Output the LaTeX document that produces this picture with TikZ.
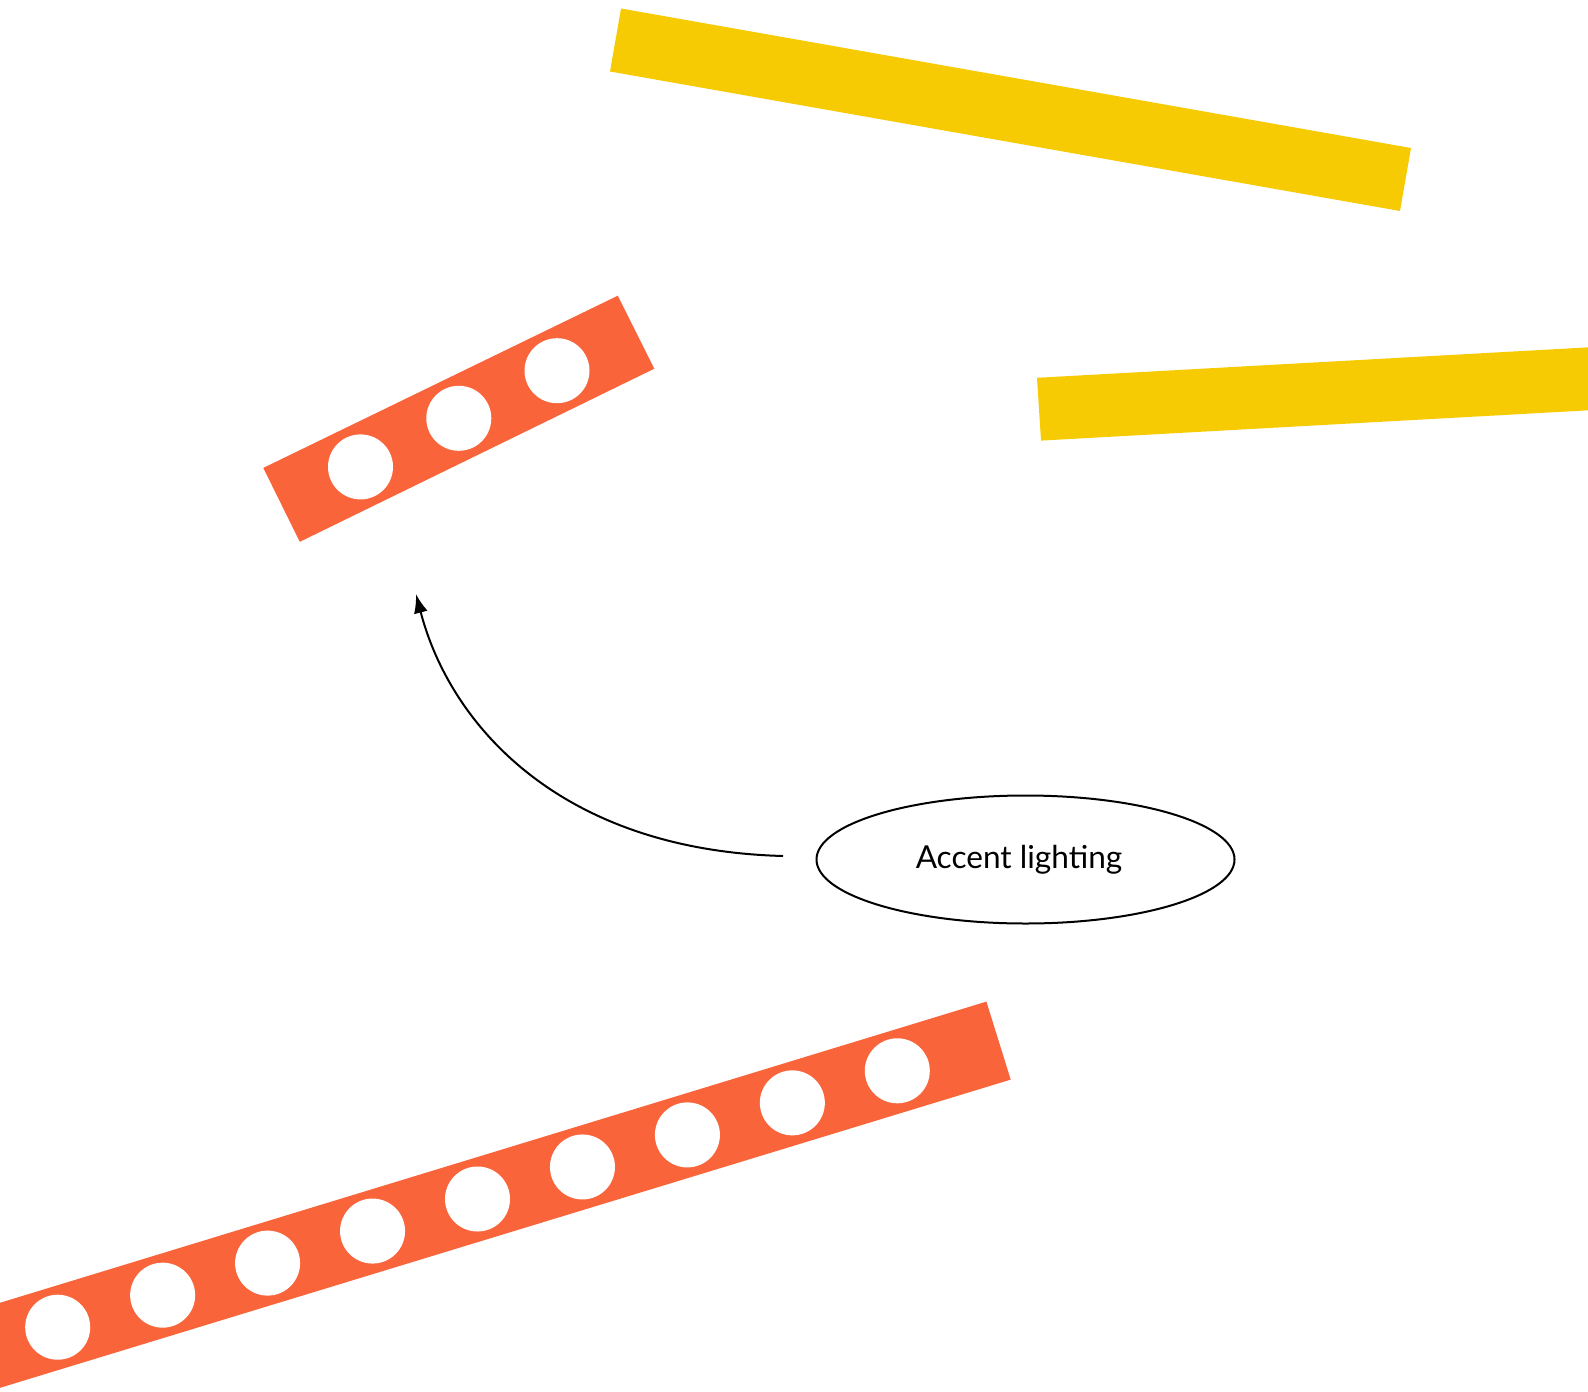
\documentclass[tikz,border=0pt]{standalone}
\usepackage{fontspec}
\setmainfont{Lato}
\usetikzlibrary{arrows.meta,shapes.geometric}
\definecolor{barorange}{RGB}{250,100,58}
\definecolor{baryellow}{RGB}{247,203,3}
\newlength{\pxu}
\setlength{\pxu}{0.5pt}
\tikzset{
  orangebar/.style={fill=barorange,draw=none},
  yellowbar/.style={fill=baryellow,draw=none},
  hole/.style={fill=white,draw=none},
  label/.style={ellipse,draw=black,line width=1pt,minimum width=418\pxu,minimum height=128\pxu,inner sep=0pt,font=\fontsize{15.8}{18}\selectfont},
  connector/.style={line width=1pt,-{Latex[length=9.5pt,width=7pt]}}
}
\begin{document}
\begin{tikzpicture}[x=0.5pt,y=-0.5pt]
\useasboundingbox (0,0) rectangle (1588,1391);
\begin{scope}
\clip (0,0) rectangle (1588,1391);
% yellow bars
\fill[yellowbar] (621,8.5) -- (1411,148) -- (1400,211) -- (610,71.5) -- cycle;
\fill[yellowbar] (1037,377.8) -- (1620,345.6) -- (1623,408.4) -- (1041,440.6) -- cycle;
% small orange bar
\fill[orangebar] (263.3,467.9) -- (617.8,295.7) -- (654.3,368.7) -- (299.8,541.8) -- cycle;
\foreach \cx/\cy in {360.5/466.9, 458.8/418.3, 557/370.7}
  \fill[hole] (\cx,\cy) circle[radius=32.5];
% large orange bar
\fill[orangebar] (-40,1315) -- (986.4,1001.6) -- (1010.7,1079.6) -- (-40,1400) -- cycle;
\foreach \i in {0,...,8}
  \fill[hole] ({57.7+104.95*\i},{1327.2-32.05*\i}) circle[radius=32.5];
\end{scope}
% label
\node[label] (accent) at (1025.5,859.5) {\hbox{Accent lighting\kern13\pxu}};
\coordinate (start) at (783,856);
\coordinate (tip) at (416,594);
\draw[connector] (start) .. controls (560,850) and (450,725) .. (tip);
\end{tikzpicture}
\end{document}
